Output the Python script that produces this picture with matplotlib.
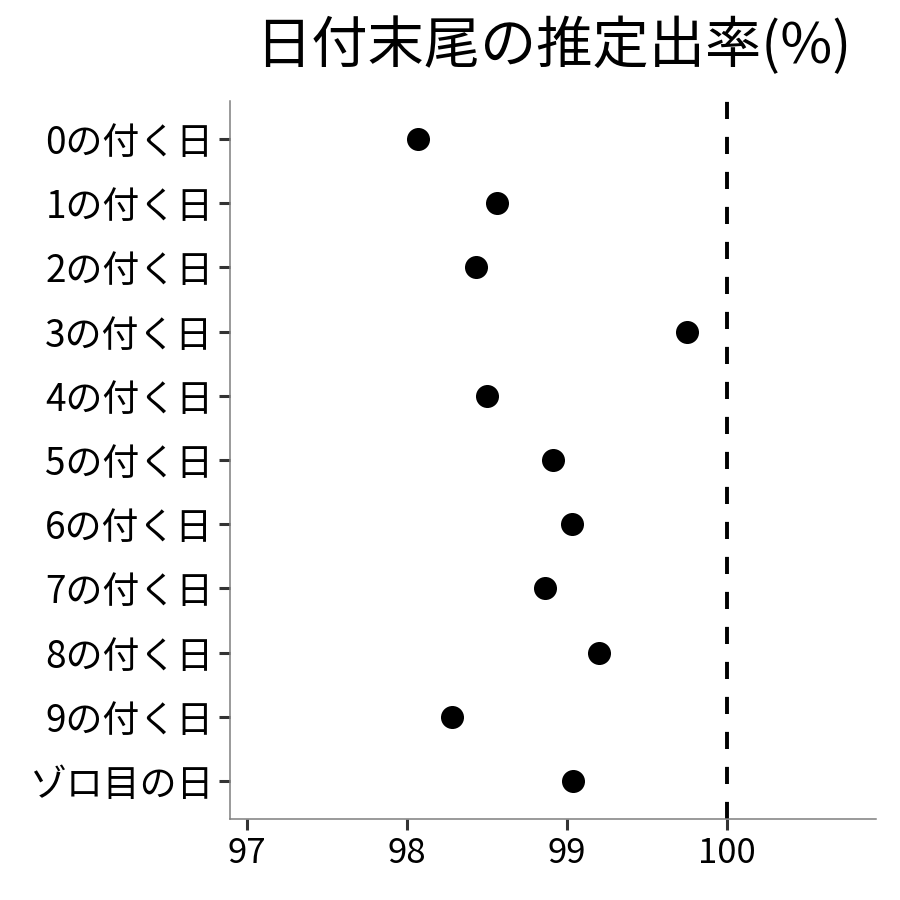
import matplotlib
matplotlib.use('Agg')
import matplotlib.pyplot as plt

plt.rcParams['font.family'] = ['Noto Sans CJK JP', 'DejaVu Sans']

# data
labels = ['0の付く日', '1の付く日', '2の付く日', '3の付く日', '4の付く日',
          '5の付く日', '6の付く日', '7の付く日', '8の付く日', '9の付く日',
          'ゾロ目の日']
rates = [98.07, 98.56, 98.43, 99.75, 98.50,
         98.91, 99.03, 98.86, 99.20, 98.28, 99.04]
xticks = [97, 98, 99, 100]

fig = plt.figure(figsize=(9, 9), dpi=100)
ax = fig.add_axes([0.2556, 0.09, 0.9733 - 0.2556, 0.8878 - 0.09])

pos = list(range(len(labels)))
ax.scatter(rates, pos, s=275, color='black', zorder=3, linewidths=0)
ax.axvline(100, color='black', lw=2.8, linestyle=(0, (4.4, 4.6)), zorder=2)

ax.set_xlim(96.894, 100.93)
ax.set_ylim(len(labels) - 1 + 0.59, -0.59)
ax.set_xticks(xticks)
ax.set_xticklabels([str(t) for t in xticks])
ax.set_yticks(pos)
ax.set_yticklabels(labels)

for side in ['top', 'right']:
    ax.spines[side].set_visible(False)
for side in ['left', 'bottom']:
    ax.spines[side].set_color('#7f7f7f')
    ax.spines[side].set_linewidth(1.1)

ax.tick_params(axis='both', length=8, width=2.2, color='#333333',
               labelcolor='black', pad=4)
ax.tick_params(axis='x', labelsize=25)
ax.tick_params(axis='y', labelsize=26.6)

fig.text(553 / 900, 1 - 47 / 900, '日付末尾の推定出率(%)', ha='center',
         va='center', fontsize=40.5)

fig.savefig('out.png', dpi=100)
